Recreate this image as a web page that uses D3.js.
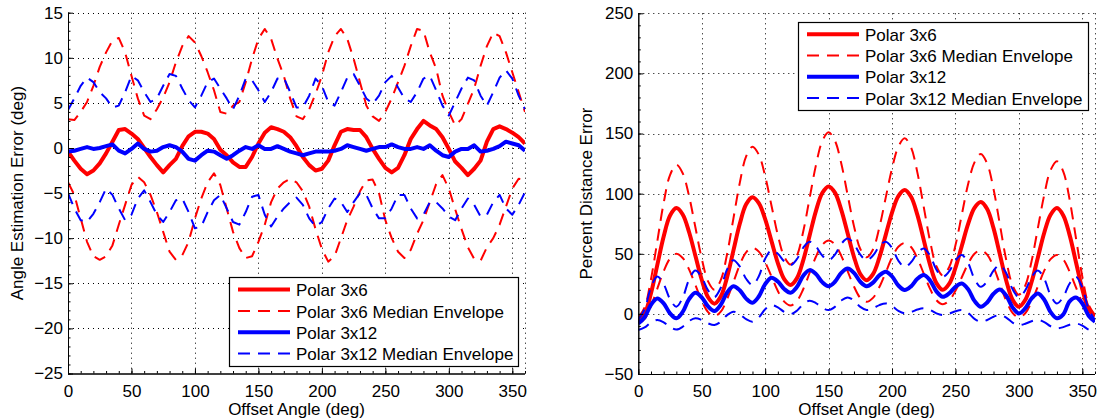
<!DOCTYPE html>
<html>
<head>
<meta charset="utf-8">
<script src="https://cdn.jsdelivr.net/npm/d3@7"></script>
<style>
  body { margin: 0; background: #fff; }
  svg { display: block; }
  text { font-family: "Liberation Sans", Arial, Helvetica, sans-serif; fill: #000; }
</style>
</head>
<body>
<svg id="chart" width="1102" height="419"></svg>
<script>
// offset angle samples (deg)
const offsetAngle = [0,5,10,15,20,25,30,35,40,45,50,55,60,65,70,75,80,85,90,95,
  100,105,110,115,120,125,130,135,140,145,150,155,160,165,170,175,180,185,190,195,
  200,205,210,215,220,225,230,235,240,245,250,255,260,265,270,275,280,285,290,295,
  300,305,310,315,320,325,330,335,340,345,350,355,360];

// left panel: angle estimation error (deg)
const angle3x6 = [-0.4,-1.4,-2.3,-2.9,-2.5,-1.7,-0.6,0.7,2.0,2.1,
  1.6,1.0,0,-1.0,-1.9,-2.7,-1.9,-1.2,0.2,1.3,
  1.8,1.8,1.6,1.0,-0.2,-0.8,-1.6,-2.1,-2.1,-1.0,
  0.5,1.7,2.3,2.1,1.8,1.2,0.2,-1.0,-1.9,-2.5,
  -2.3,-1.4,0.3,1.8,2.1,2.0,2.0,1.2,-0.1,-1.2,
  -2.2,-2.7,-2.2,-0.8,1.0,2.1,3.0,2.5,2.1,1.2,
  -0.1,-1.5,-2.2,-3.0,-2.3,-1.4,0.7,2.1,2.4,2.1,
  1.7,1.2,0.5];
const angle3x6Upper = [3.2,3.1,4.0,5.1,6.9,9.0,10.6,11.9,12.2,10.6,
  8.0,5.5,3.6,3.2,4.3,5.6,7.3,9.5,11.3,12.4,
  11.7,10.2,8.4,6.4,4.0,3.8,4.7,5.1,7.3,9.9,
  12.1,13.2,12.1,9.9,8.0,5.5,3.5,3.2,4.3,6.0,
  8.0,10.6,12.4,13.2,12.1,9.9,7.3,4.7,3.5,3.0,
  4.0,5.5,7.3,9.1,11.3,13.2,13.0,10.6,8.8,5.8,
  4.0,2.5,3.2,4.9,6.6,9.1,11.3,12.8,12.4,10.6,
  8.4,6.2,4.0];
const angle3x6Lower = [-3.8,-5.2,-7.8,-10.4,-12.0,-12.4,-12.0,-10.8,-8.5,-6.3,
  -4.1,-3.2,-3.8,-5.2,-7.1,-9.3,-11.5,-12.4,-11.9,-10.4,
  -7.8,-5.6,-3.8,-2.8,-4.1,-6.7,-9.3,-11.1,-12.2,-12.0,
  -10.4,-8.5,-6.0,-4.5,-3.8,-3.4,-3.8,-4.8,-6.5,-9.0,
  -11.2,-12.6,-12.0,-10.0,-8.0,-6.5,-4.8,-3.6,-3.5,-5.0,
  -8.0,-10.0,-11.5,-12.2,-11.3,-9.5,-8.0,-6.0,-4.0,-3.0,
  -4.5,-6.8,-9.0,-11.0,-12.3,-12.5,-11.0,-10.0,-8.5,-6.5,
  -4.5,-3.4,-3.5];
const angle3x12 = [-0.4,-0.3,-0.1,0.1,-0.1,0,0.2,0.4,-0.3,-0.6,
  -0.1,0.5,-0.1,-0.4,-0.3,0.1,0.3,0.1,-0.4,-1.2,
  -1.4,-0.8,-0.3,-0.4,-0.8,-1.2,-0.8,-0.3,0.1,-0.1,
  0.3,-0.1,-0.1,0.2,-0.1,-0.4,-0.6,-0.8,-0.6,-0.4,
  -0.4,-0.4,-0.3,-0.1,0.3,0.1,-0.1,-0.3,-0.1,0.1,
  0.1,0.4,0.1,-0.1,-0.1,0.1,-0.1,0.3,-0.3,-0.8,
  -1.0,-0.4,-0.1,-0.1,0.3,-0.4,-0.3,-0.1,0.2,0.7,
  0.5,0.3,-0.3];
const angle3x12Upper = [4.2,5.5,6.9,7.8,7.3,6.2,5.5,4.5,4.7,6.2,
  8.0,7.5,6.2,5.1,5.5,6.9,8.2,8.0,6.6,5.3,
  4.5,5.8,7.3,7.7,6.6,5.5,4.3,5.8,7.7,7.5,
  6.4,5.1,6.2,7.7,7.8,6.2,4.5,4.5,5.8,7.7,
  6.9,5.1,4.7,6.2,7.8,8.2,6.9,5.5,4.9,5.8,
  7.3,8.0,6.7,5.5,5.1,6.2,7.7,8.0,6.4,4.7,
  3.6,5.1,6.6,7.8,7.5,5.8,4.7,6.2,7.8,8.6,
  7.7,5.8,4.3];
const angle3x12Lower = [-5.0,-6.7,-8.0,-8.2,-7.3,-6.0,-4.5,-5.2,-6.7,-8.0,
  -7.4,-5.6,-4.7,-6.0,-7.4,-8.2,-7.1,-5.8,-5.6,-7.1,
  -8.9,-8.7,-7.1,-5.8,-5.2,-6.7,-8.2,-8.5,-7.1,-5.4,
  -5.2,-7.4,-8.7,-7.6,-6.7,-6.0,-5.5,-6.3,-7.8,-8.7,
  -8.2,-6.7,-5.6,-6.0,-7.1,-6.0,-5.0,-5.2,-6.7,-7.8,
  -7.8,-6.7,-5.2,-5.2,-6.7,-7.8,-7.4,-6.0,-6.0,-6.7,
  -7.6,-8.0,-6.7,-5.6,-6.3,-7.6,-7.4,-6.0,-5.2,-6.7,
  -7.4,-6.3,-4.9];

// right panel: percent distance error
const dist3x6 = [-6.5,-0.2,17.1,40.8,64.4,81.7,88,82.7,68.1,48.3,
  28.4,13.8,8.5,14.4,30.6,52.8,74.9,91.1,97,92.1,
  78.8,60.5,42.3,28.9,24,29.5,44.5,65,85.5,100.5,
  106,100.8,86.5,67,47.5,33.2,28,33,46.8,65.5,
  84.3,98,103,97.4,82.3,61.5,40.8,25.6,20,24.9,
  38.3,56.5,74.8,88.1,93,87.2,71.3,49.5,27.8,11.8,
  6,11.5,26.5,47,67.5,82.5,88,81.9,65.5,43,
  20.5,4,-2];
const dist3x6Upper = [-3,5.5,28.8,60.5,92.3,115.5,124,117,98,72,
  46,27,20,28,49.8,79.5,109,131,139,132.4,
  114.5,90,65.5,47.6,41,48.4,68.5,96,123.5,143.6,
  151,144,125,99,73,54,47,53.6,71.8,96.5,
  121,139,146,138.4,117.5,89,60.5,39.6,32,38.8,
  57,82.5,108,126,133,125,103.8,74.5,45,23.8,
  16,23.4,43.8,71.5,99,119.6,127,118.4,95,63,
  31,7.6,-1];
const dist3x6Lower = [-8,-4.1,6.5,21,35.5,46,50,46.5,37,24,
  11,1.5,-2,1.8,12.3,26.5,40.8,51.2,55,51.8,
  43,31,19,10.2,7,10.6,20.5,34,47.5,57.4,
  61,57.7,48.3,35.5,22.8,13.3,10,13.3,22.3,34.5,
  46.8,55.8,59,55.6,46.3,33.5,20.8,11.4,8,11,
  19.3,30.5,41.8,50,53,49.3,39,25,11,0.8,
  -3,0.5,10,23,36,45.5,49,45.3,35,22,
  9,-1.4,-5];
const dist3x12 = [-8,-2.8,7.6,12.8,8.7,0.4,-3.7,1.6,12.3,17.6,
  13.8,6.2,2.4,7.6,17.8,23,19.6,12.7,9.3,14.5,
  24.8,30,26.9,20.7,17.6,22.3,31.7,36.4,33.2,26.4,
  23,26.7,34.1,37.8,34.1,26.7,23,26,32,35,
  31.2,23.6,19.8,22.9,29.2,32.3,27.8,18.7,14.2,17,
  22.5,25.3,20.5,10.8,5.9,9.5,16.7,20.3,15.3,5.4,
  0.4,4.6,12.8,17,11.8,1.5,-3.7,-0.4,10.4,13.7,
  8.7,-1.5,-6.5];
const dist3x12Upper = [-5,4,22,31,24.8,12.3,6,13.5,28.5,36,
  30.5,19.5,14,21.7,37,44.7,39.5,29.2,24,31.3,
  45.8,53,50,43.7,40.6,45.5,55,60,56.2,48.5,
  44.7,49.2,58.2,62.7,58.2,49.2,44.7,48.5,56.2,60,
  54.8,44.3,39,42.9,50.6,54.4,48.5,36.7,30.8,35.3,
  44.4,48.9,42.3,29.1,22.5,27,36,40.6,34,20.6,
  14,19.5,30.5,36,29.2,15.5,8.7,14.2,25.3,30.8,
  21.8,4,-5];
const dist3x12Lower = [-13.4,-11.3,-7.1,-5,-7,-11,-13,-10.7,-6,-3.7,
  -5.1,-7.9,-9.3,-6.5,-1,1.8,-0.3,-4.4,-6.5,-3,
  3.8,7.3,5.4,1.7,-0.2,2.6,8.1,10.9,9,5.1,
  3.2,5.8,11.1,13.7,11.1,5.8,3.2,4.6,7.3,8.7,
  6.6,2.5,0.4,1.5,3.6,4.6,3.2,0.4,-1,0.1,
  2.2,3.2,0.8,-4.1,-6.5,-5.1,-2.4,-1,-3.1,-7.2,
  -9.3,-8.2,-6.1,-5,-6.8,-10.3,-12,-11,-9,-8,
  -9.7,-13.1,-14.8];

const xTicks = [0,50,100,150,200,250,300,350];
const leftYTicks = [-25,-20,-15,-10,-5,0,5,10,15];
const rightYTicks = [-50,0,50,100,150,200,250];
const legendLabels = ["Polar 3x6", "Polar 3x6 Median Envelope", "Polar 3x12", "Polar 3x12 Median Envelope"];

const RED = "#ff0000", BLUE = "#0000ff";
const FONT = 17;
const svg = d3.select("#chart");
const fmt = v => v < 0 ? "\u2212" + Math.abs(v) : String(v);

function drawPanel(opt) {
  const x = d3.scaleLinear().domain([0, 360]).range([opt.left, opt.right]);
  const y = d3.scaleLinear().domain(opt.yDomain).range([opt.bottom, opt.top]);
  const g = svg.append("g");

  // dotted grid
  const grid = g.append("g")
    .attr("stroke", "#000").attr("stroke-width", 1).attr("stroke-dasharray", "1,4");
  opt.yTicks.forEach(t => {
    if (t === opt.yDomain[0]) return;
    grid.append("line").attr("x1", opt.left).attr("x2", opt.right)
      .attr("y1", Math.round(y(t)) + 0.5).attr("y2", Math.round(y(t)) + 0.5);
  });
  xTicks.concat([360]).forEach(t => {
    if (t === 0) return;
    grid.append("line").attr("y1", opt.top).attr("y2", opt.bottom)
      .attr("x1", Math.round(x(t)) + 0.5).attr("x2", Math.round(x(t)) + 0.5);
  });

  // data
  const clipId = "clip" + opt.id;
  g.append("clipPath").attr("id", clipId).append("rect")
    .attr("x", opt.left).attr("y", opt.top)
    .attr("width", opt.right - opt.left).attr("height", opt.bottom - opt.top);
  const plot = g.append("g").attr("clip-path", `url(#${clipId})`);
  const line = d3.line().x((d, i) => x(offsetAngle[i])).y(d => y(d)).curve(opt.curve);
  opt.series.forEach(s => {
    plot.append("path").datum(s.values)
      .attr("d", line)
      .attr("fill", "none")
      .attr("stroke", s.color)
      .attr("stroke-width", s.dashed ? 2 : 4)
      .attr("stroke-dasharray", s.dashed ? "12,8" : null)
      .attr("stroke-linejoin", "round");
  });

  // axes (MATLAB style: ticks inside)
  const xAxis = d3.axisBottom(x).tickValues(xTicks).tickSize(-5).tickPadding(11).tickFormat(fmt);
  const xMinor = d3.axisBottom(x).tickValues(d3.range(0, 361, 10)).tickSize(-2.5).tickFormat("");
  const yAxis = d3.axisLeft(y).tickValues(opt.yTicks).tickSize(-5).tickPadding(5).tickFormat(fmt);
  const yMinor = d3.axisLeft(y).tickValues(opt.yMinor).tickSize(-2.5).tickFormat("");

  [xMinor, xAxis].forEach(a => {
    g.append("g").attr("transform", `translate(0,${opt.bottom})`).call(a)
      .call(s => s.select(".domain").attr("d", `M${opt.left},0.5H${opt.right}`));
  });
  [yMinor, yAxis].forEach(a => {
    g.append("g").attr("transform", `translate(${opt.left},0)`).call(a)
      .call(s => s.select(".domain").attr("d", `M0.5,${opt.top}V${opt.bottom}`));
  });
  g.selectAll(".tick text").attr("font-size", FONT).attr("font-family", "Liberation Sans, Arial, sans-serif").attr("fill", "#000");
  g.selectAll(".domain, .tick line").attr("stroke", "#000");

  // axis labels
  g.append("text")
    .attr("x", (opt.left + opt.right) / 2).attr("y", 415)
    .attr("text-anchor", "middle").attr("font-size", FONT)
    .text("Offset Angle (deg)");
  g.append("text")
    .attr("transform", `translate(${opt.ylabelX},${(opt.top + opt.bottom) / 2}) rotate(-90)`)
    .attr("text-anchor", "middle").attr("font-size", FONT)
    .text(opt.ylabel);

  // legend
  const L = opt.legend;
  const lg = g.append("g");
  lg.append("rect").attr("x", L.x0 + 0.5).attr("y", L.y0 + 0.5)
    .attr("width", L.x1 - L.x0).attr("height", L.y1 - L.y0)
    .attr("fill", "#fff").attr("stroke", "#000").attr("stroke-width", 1.2);
  opt.series.filter(s => s.label).forEach((s, i) => {
    const ry = L.rows[i];
    lg.append("line").attr("x1", L.x0 + 9).attr("x2", L.x0 + 61)
      .attr("y1", ry).attr("y2", ry)
      .attr("stroke", s.color)
      .attr("stroke-width", s.dashed ? 2 : 4)
      .attr("stroke-dasharray", s.dashed ? "12,8" : null);
    lg.append("text").attr("x", L.x0 + 67).attr("y", ry + 6.5)
      .attr("font-size", FONT).text(s.label);
  });
}

drawPanel({
  id: "L", left: 68, right: 525, top: 12.7, bottom: 373.5,
  yDomain: [-25, 15], yTicks: leftYTicks, yMinor: d3.range(-25, 16, 1),
  ylabel: "Angle Estimation Error (deg)", ylabelX: 23,
  curve: d3.curveLinear,
  series: [
    { values: angle3x6, color: RED, dashed: false, label: legendLabels[0] },
    { values: angle3x6Upper, color: RED, dashed: true, label: legendLabels[1] },
    { values: angle3x6Lower, color: RED, dashed: true },
    { values: angle3x12, color: BLUE, dashed: false, label: legendLabels[2] },
    { values: angle3x12Upper, color: BLUE, dashed: true, label: legendLabels[3] },
    { values: angle3x12Lower, color: BLUE, dashed: true }
  ],
  legend: { x0: 229, x1: 518, y0: 277, y1: 366, rows: [289.5, 311, 332.3, 353.5] }
});

drawPanel({
  id: "R", left: 638.3, right: 1095, top: 13.3, bottom: 374,
  yDomain: [-50, 250], yTicks: rightYTicks, yMinor: d3.range(-50, 251, 10),
  ylabel: "Percent Distance Error", ylabelX: 592,
  curve: d3.curveCatmullRom.alpha(0.5),
  series: [
    { values: dist3x6, color: RED, dashed: false, label: legendLabels[0] },
    { values: dist3x6Upper, color: RED, dashed: true, label: legendLabels[1] },
    { values: dist3x6Lower, color: RED, dashed: true },
    { values: dist3x12, color: BLUE, dashed: false, label: legendLabels[2] },
    { values: dist3x12Upper, color: BLUE, dashed: true, label: legendLabels[3] },
    { values: dist3x12Lower, color: BLUE, dashed: true }
  ],
  legend: { x0: 798, x1: 1088, y0: 22, y1: 110, rows: [34.3, 55.5, 76.7, 98] }
});
</script>
</body>
</html>
